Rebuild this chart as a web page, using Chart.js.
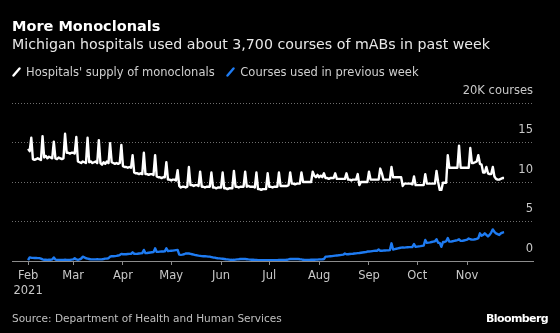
<!DOCTYPE html>
<html>
<head>
<meta charset="utf-8">
<script src="https://cdn.jsdelivr.net/npm/chart.js@4.4.0/dist/chart.umd.min.js"></script>
<style>
  html, body { margin: 0; padding: 0; background: #000; }
  #wrap { position: relative; width: 560px; height: 333px; overflow: hidden; font-family: "DejaVu Sans", sans-serif; }
  #chart { position: absolute; left: 0; top: 0; }
  .txt { position: absolute; left: 12px; white-space: nowrap; }
  #title { top: 19px; font-size: 14.5px; line-height: 15px; font-weight: bold; color: #fff; }
  #subtitle { top: 37px; font-size: 14.2px; line-height: 15px; color: #e8e8e8; }
  #legend { top: 66px; font-size: 11.5px; line-height: 13px; color: #d0d0d0; }
  #legend svg { vertical-align: -1px; margin-right: 5px; }
  #legend .item { margin-right: 8px; }
  #source { top: 312px; font-size: 10.5px; line-height: 12px; color: #c0c0c0; }
  #logo { position: absolute; right: 12px; top: 313px; font-size: 11px; line-height: 12px; font-weight: bold; color: #fff; letter-spacing: -0.6px; }
</style>
</head>
<body>
<div id="wrap">
  <canvas id="chart" width="560" height="333"></canvas>
  <div class="txt" id="title">More Monoclonals</div>
  <div class="txt" id="subtitle">Michigan hospitals used about 3,700 courses of mABs in past week</div>
  <div class="txt" id="legend">
    <span class="item"><svg width="9" height="10"><line x1="1.5" y1="8.5" x2="7.5" y2="1.5" stroke="#ffffff" stroke-width="2.4" stroke-linecap="round"/></svg>Hospitals' supply of monoclonals</span>
    <span class="item"><svg width="9" height="10"><line x1="1.5" y1="8.5" x2="7.5" y2="1.5" stroke="#1e7bf2" stroke-width="2.4" stroke-linecap="round"/></svg>Courses used in previous week</span>
  </div>
  <div class="txt" id="source">Source: Department of Health and Human Services</div>
  <div id="logo">Bloomberg</div>
</div>
<script>
// daily series from Feb 1, 2021, thousands of courses, one row per week
const startDate = '2021-02-01';

const hospitalSupply = [
    [14.2, 13.9, 15.6, 12.9, 12.8, 12.9, 13.0],
    [12.9, 12.8, 15.8, 13.1, 13.3, 13.0, 13.2],
    [13.1, 13.0, 15.1, 13.0, 12.9, 13.1, 13.0],
    [12.9, 13.0, 16.1, 13.7, 13.7, 13.6, 13.7],
    [13.7, 13.6, 15.7, 12.6, 12.5, 12.4, 12.6],
    [12.5, 12.4, 15.6, 12.5, 12.6, 12.4, 12.5],
    [12.6, 12.4, 15.3, 12.4, 12.2, 12.5, 12.3],
    [12.6, 12.4, 14.9, 12.5, 12.4, 12.3, 12.4],
    [12.3, 12.4, 14.7, 12.0, 11.9, 11.9, 11.8],
    [11.9, 11.8, 13.4, 11.2, 11.1, 11.1, 11.0],
    [11.1, 11.0, 13.7, 11.0, 11.0, 10.9, 11.0],
    [11.0, 10.9, 13.4, 10.7, 10.6, 10.6, 10.5],
    [10.6, 10.6, 12.5, 10.3, 10.3, 10.2, 10.3],
    [10.3, 10.2, 11.5, 9.5, 9.3, 9.4, 9.4],
    [9.3, 9.4, 11.9, 9.6, 9.6, 9.5, 9.6],
    [9.6, 9.5, 11.3, 9.4, 9.4, 9.3, 9.4],
    [9.4, 9.4, 11.2, 9.3, 9.3, 9.2, 9.3],
    [9.3, 9.3, 11.2, 9.2, 9.2, 9.1, 9.2],
    [9.2, 9.2, 11.4, 9.4, 9.4, 9.3, 9.4],
    [9.4, 9.4, 11.3, 9.4, 9.5, 9.4, 9.4],
    [9.4, 9.3, 11.2, 9.1, 9.1, 9.0, 9.1],
    [9.1, 9.1, 11.1, 9.4, 9.4, 9.3, 9.4],
    [9.4, 9.4, 11.2, 9.5, 9.5, 9.5, 9.5],
    [9.5, 9.6, 11.2, 9.8, 9.8, 9.7, 9.8],
    [9.8, 9.8, 11.2, 10.0, 10.0, 10.0, 10.0],
    [10.0, 10.0, 11.3, 10.8, 10.6, 10.9, 10.6],
    [10.8, 10.6, 11.1, 10.5, 10.5, 10.4, 10.5],
    [10.5, 10.5, 11.1, 10.4, 10.4, 10.4, 10.4],
    [10.4, 10.4, 11.1, 10.3, 10.3, 10.2, 10.3],
    [10.3, 10.3, 11.0, 9.6, 10.0, 10.0, 10.0],
    [10.0, 10.0, 11.3, 10.3, 10.3, 10.3, 10.3],
    [10.3, 10.3, 11.7, 11.1, 10.3, 10.3, 10.3],
    [10.3, 10.3, 11.9, 10.6, 10.6, 10.6, 10.6],
    [10.6, 10.6, 9.5, 9.8, 9.8, 9.8, 9.8],
    [9.8, 9.7, 10.7, 9.6, 9.6, 9.6, 9.6],
    [9.6, 9.6, 11.0, 9.8, 9.8, 9.8, 9.8],
    [9.8, 9.8, 11.4, 10.0, 9.0, 9.0, 9.9],
    [9.9, 9.9, 13.4, 11.8, 11.8, 11.8, 11.8],
    [11.8, 11.8, 14.6, 11.8, 11.8, 11.8, 11.8],
    [11.8, 11.8, 14.3, 12.4, 12.4, 12.5, 12.6],
    [13.4, 12.3, 12.2, 11.2, 11.2, 11.9, 11.1],
    [11.0, 11.0, 11.9, 10.7, 10.4, 10.3, 10.3],
    [10.4, 10.5, 10.5]
].flat();

const coursesUsed = [
    [0.1, 0.45, 0.42, 0.4, 0.38, 0.38, 0.36],
    [0.36, 0.3, 0.2, 0.15, 0.15, 0.14, 0.15],
    [0.15, 0.2, 0.45, 0.18, 0.14, 0.13, 0.14],
    [0.13, 0.14, 0.15, 0.13, 0.13, 0.14, 0.18],
    [0.2, 0.35, 0.2, 0.15, 0.2, 0.3, 0.55],
    [0.45, 0.35, 0.3, 0.25, 0.2, 0.2, 0.2],
    [0.2, 0.22, 0.2, 0.2, 0.22, 0.25, 0.3],
    [0.32, 0.35, 0.55, 0.6, 0.6, 0.62, 0.65],
    [0.7, 0.75, 0.9, 0.85, 0.85, 0.85, 0.88],
    [0.9, 0.9, 1.1, 0.92, 0.9, 0.92, 0.95],
    [0.97, 1.0, 1.4, 1.0, 1.02, 1.05, 1.08],
    [1.1, 1.12, 1.6, 1.15, 1.15, 1.18, 1.2],
    [1.2, 1.22, 1.6, 1.25, 1.28, 1.3, 1.32],
    [1.35, 1.38, 1.4, 0.8, 0.78, 0.8, 0.85],
    [0.95, 0.97, 0.95, 0.9, 0.85, 0.8, 0.75],
    [0.72, 0.68, 0.65, 0.62, 0.6, 0.6, 0.58],
    [0.56, 0.55, 0.5, 0.45, 0.42, 0.38, 0.35],
    [0.33, 0.3, 0.28, 0.25, 0.22, 0.2, 0.18],
    [0.15, 0.13, 0.15, 0.18, 0.2, 0.22, 0.25],
    [0.25, 0.25, 0.25, 0.23, 0.2, 0.18, 0.16],
    [0.15, 0.13, 0.12, 0.1, 0.1, 0.1, 0.1],
    [0.1, 0.1, 0.1, 0.1, 0.1, 0.1, 0.1],
    [0.1, 0.1, 0.12, 0.12, 0.13, 0.13, 0.13],
    [0.15, 0.2, 0.25, 0.25, 0.25, 0.25, 0.25],
    [0.25, 0.22, 0.2, 0.15, 0.13, 0.13, 0.13],
    [0.13, 0.15, 0.15, 0.15, 0.17, 0.18, 0.2],
    [0.2, 0.22, 0.25, 0.55, 0.55, 0.58, 0.6],
    [0.62, 0.65, 0.68, 0.7, 0.72, 0.75, 0.78],
    [0.8, 0.95, 0.85, 0.85, 0.88, 0.9, 0.92],
    [0.95, 0.97, 1.0, 1.02, 1.05, 1.08, 1.1],
    [1.12, 1.2, 1.2, 1.22, 1.25, 1.28, 1.3],
    [1.3, 1.45, 1.3, 1.3, 1.32, 1.33, 1.35],
    [1.35, 1.38, 2.24, 1.45, 1.5, 1.55, 1.6],
    [1.65, 1.7, 1.73, 1.7, 1.72, 1.74, 1.75],
    [1.76, 1.78, 2.15, 1.8, 1.82, 1.85, 1.88],
    [1.92, 1.95, 2.66, 2.3, 2.32, 2.35, 2.4],
    [2.45, 2.5, 2.75, 2.3, 2.3, 1.8, 2.4],
    [2.4, 2.5, 2.9, 2.45, 2.45, 2.5, 2.55],
    [2.6, 2.65, 2.75, 2.55, 2.55, 2.6, 2.65],
    [2.7, 2.85, 2.75, 2.7, 2.7, 2.75, 2.8],
    [2.9, 3.5, 3.2, 3.3, 3.5, 3.3, 3.1],
    [3.3, 3.6, 4.0, 3.7, 3.5, 3.4, 3.3],
    [3.5, 3.6, 3.65]
].flat();

const monthStarts = ['2021-02-01', '2021-03-01', '2021-04-01', '2021-05-01', '2021-06-01',
    '2021-07-01', '2021-08-01', '2021-09-01', '2021-10-01', '2021-11-01'];
const monthLabels = [['Feb', '2021'], 'Mar', 'Apr', 'May', 'Jun', 'Jul', 'Aug', 'Sep', 'Oct', 'Nov'];
const yTicks = [0, 5, 10, 15, 20];
const yUnit = '20K courses';

const dayOf = (s) => Math.round((Date.parse(s) - Date.parse(startDate)) / 86400000);
const tickDays = monthStarts.map(dayOf);
const toPoints = (arr) => arr.map((v, i) => ({ x: i, y: v }));

const font = { family: '"DejaVu Sans", sans-serif', size: 11.5, lineHeight: 1.3 };
const gray = '#8c8c8c';

new Chart(document.getElementById('chart'), {
    type: 'line',
    data: {
        datasets: [{
            label: "Hospitals' supply of monoclonals",
            data: toPoints(hospitalSupply),
            borderColor: '#ffffff',
            borderWidth: 2.4,
            borderJoinStyle: 'round',
            pointRadius: 0,
            tension: 0
        }, {
            label: 'Courses used in previous week',
            data: toPoints(coursesUsed),
            borderColor: '#1e7bf2',
            borderWidth: 2.4,
            borderJoinStyle: 'round',
            pointRadius: 0,
            tension: 0
        }]
    },
    options: {
        responsive: false,
        animation: false,
        devicePixelRatio: 1,
        layout: { padding: { left: 12, right: 27, top: 103, bottom: 32 } },
        plugins: { legend: { display: false }, tooltip: { enabled: false } },
        scales: {
            x: {
                type: 'linear',
                min: -10,
                max: 314,
                afterBuildTicks: (scale) => { scale.ticks = tickDays.map(v => ({ value: v })); },
                afterFit: (scale) => { scale.height = 40; },
                grid: { drawOnChartArea: false, drawTicks: true, tickLength: 4, tickColor: gray },
                border: { display: true, color: gray, width: 1 },
                ticks: {
                    autoSkip: false,
                    maxRotation: 0,
                    padding: 4,
                    color: '#c8c8c8',
                    font: font,
                    callback: (v, i) => monthLabels[i]
                }
            },
            y: {
                position: 'right',
                min: 0,
                max: 20,
                afterBuildTicks: (scale) => { scale.ticks = yTicks.map(v => ({ value: v })); },
                afterFit: (scale) => { scale.width = 0; },
                grid: {
                    drawTicks: false,
                    color: (c) => c.tick && c.tick.value === 0 ? 'rgba(0,0,0,0)' : '#6e6e6e',
                    lineWidth: 1
                },
                border: { display: false, dash: [1, 2] },
                ticks: {
                    mirror: true,
                    padding: 0,
                    labelOffset: -12,
                    color: '#c8c8c8',
                    font: font,
                    callback: (v) => v === 20 ? yUnit : v
                }
            }
        }
    }
});
</script>
</body>
</html>
